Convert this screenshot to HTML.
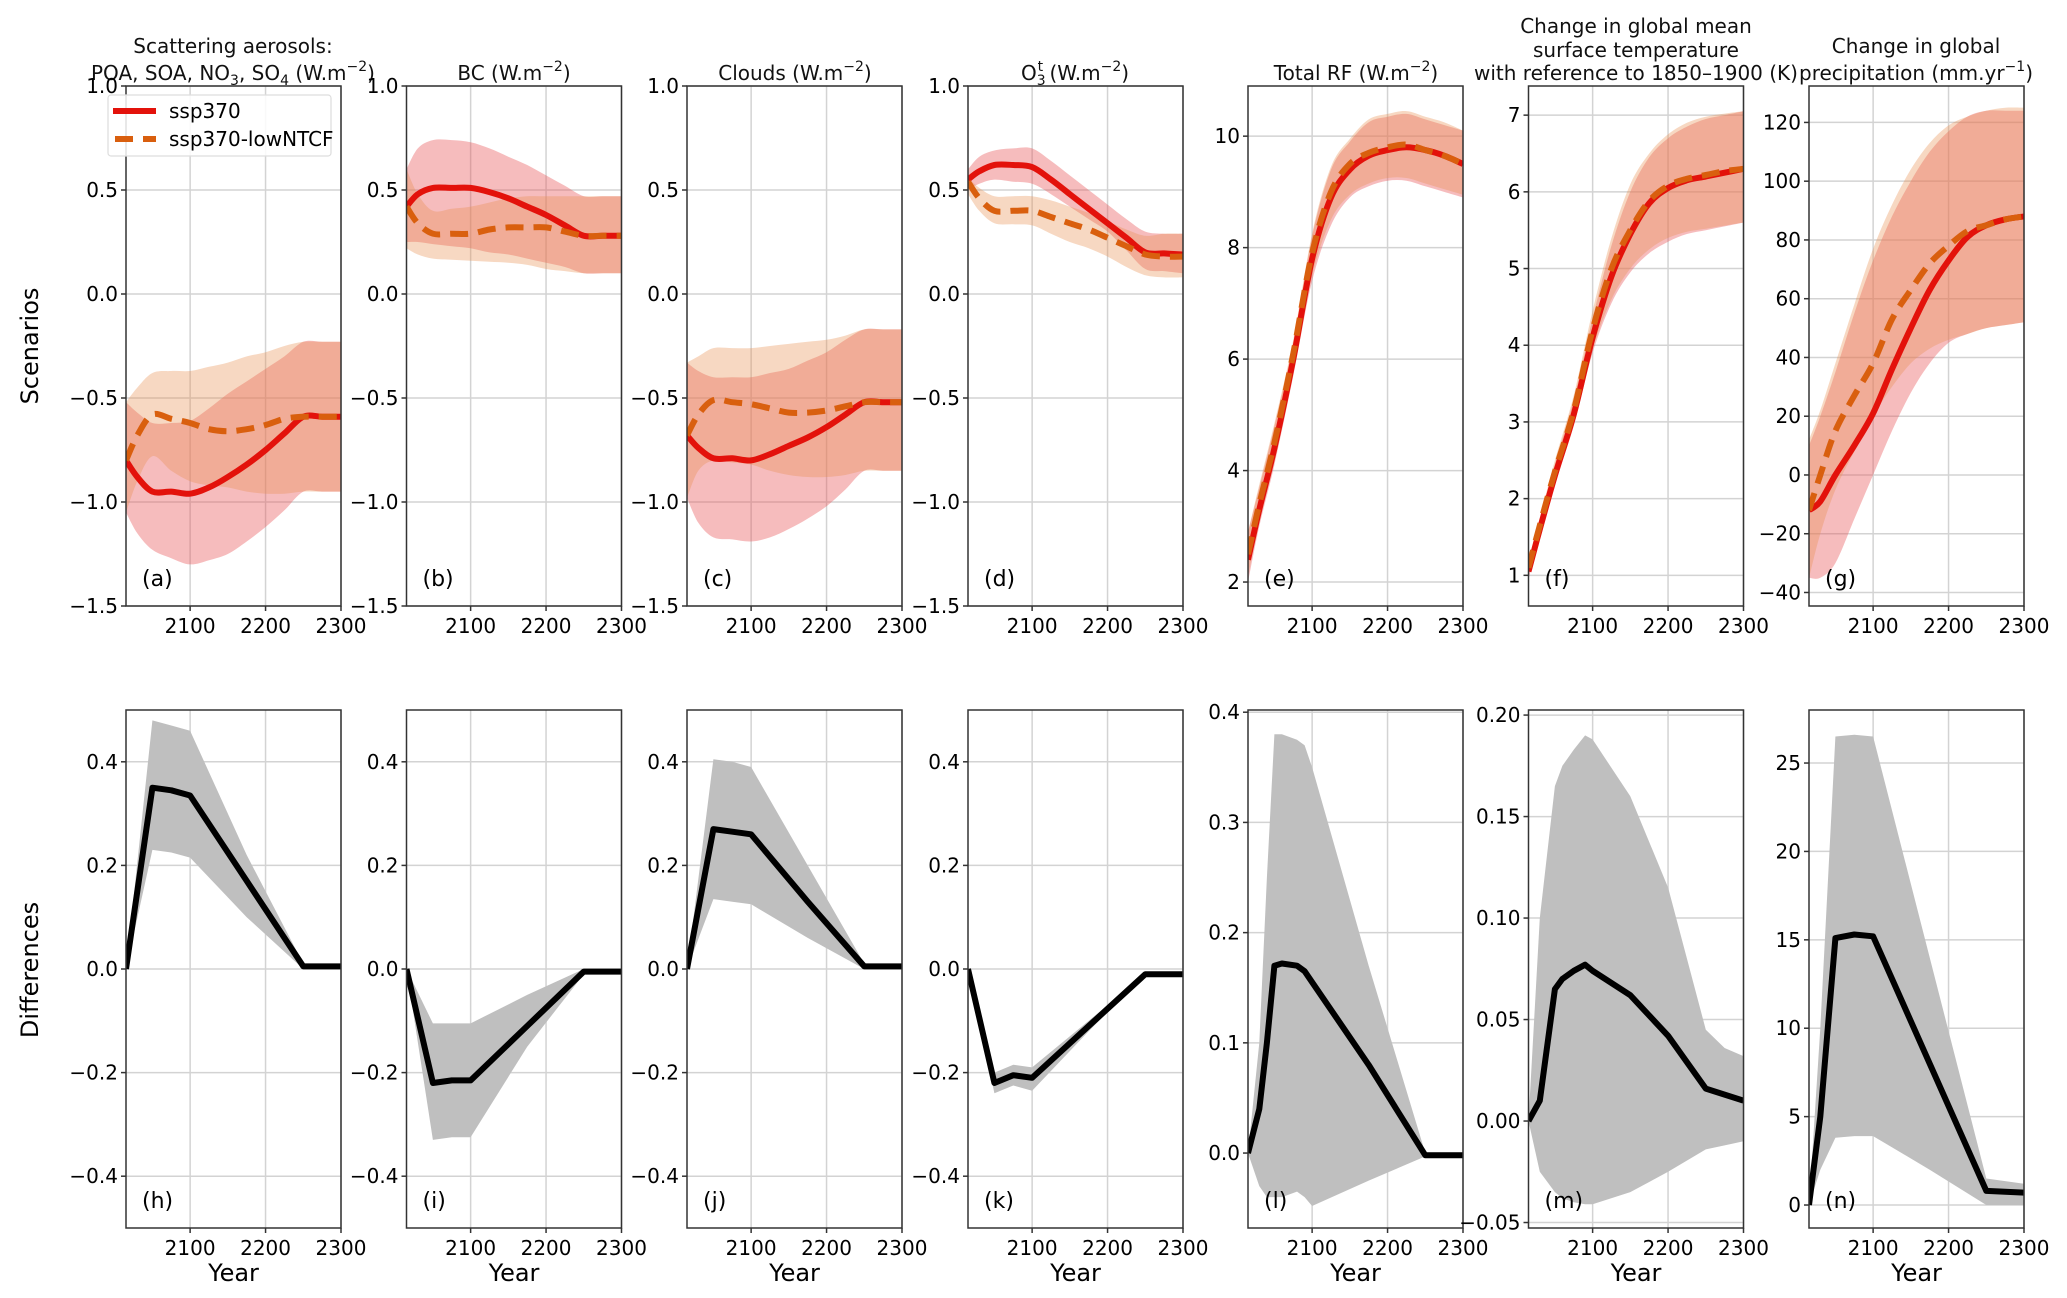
<!DOCTYPE html>
<html><head><meta charset="utf-8">
<style>
html,body{margin:0;padding:0;background:#fff;}
svg{display:block;font-family:"DejaVu Sans","Liberation Sans",sans-serif;}
</style></head>
<body>
<svg id="fig" xmlns="http://www.w3.org/2000/svg" width="2067" height="1298" viewBox="0 0 2067 1298">
<rect x="0" y="0" width="2067" height="1298" fill="#fff"/>
<text x="0" y="0" font-size="24" text-anchor="middle" transform="translate(38,346) rotate(-90)">Scenarios</text>
<text x="0" y="0" font-size="24" text-anchor="middle" transform="translate(38,970) rotate(-90)">Differences</text>
<g font-size="20" text-anchor="middle" fill="#111">
<text x="233" y="53">Scattering aerosols:</text>
<text x="233" y="80">POA, SOA, NO<tspan font-size="14" dy="5">3</tspan><tspan dy="-5">, SO</tspan><tspan font-size="14" dy="5">4</tspan><tspan dy="-5"> (W.m</tspan><tspan font-size="14" dy="-9">−2</tspan><tspan dy="9">)</tspan></text>
<text x="514" y="80">BC (W.m<tspan font-size="14" dy="-9">−2</tspan><tspan dy="9">)</tspan></text>
<text x="795" y="80">Clouds (W.m<tspan font-size="14" dy="-9">−2</tspan><tspan dy="9">)</tspan></text>
<text x="1075" y="80">O<tspan font-size="14" dy="5">3</tspan><tspan font-size="14" dx="-8" dy="-14">t</tspan><tspan dy="9"> (W.m</tspan><tspan font-size="14" dy="-9">−2</tspan><tspan dy="9">)</tspan></text>
<text x="1356" y="80">Total RF (W.m<tspan font-size="14" dy="-9">−2</tspan><tspan dy="9">)</tspan></text>
<text x="1636" y="33">Change in global mean</text>
<text x="1636" y="57">surface temperature</text>
<text x="1636" y="80">with reference to 1850–1900 (K)</text>
<text x="1916" y="53">Change in global</text>
<text x="1916" y="80">precipitation (mm.yr<tspan font-size="14" dy="-9">−1</tspan><tspan dy="9">)</tspan></text>
</g>
<g id="panels"></g>
<g>
<rect x="108" y="95" width="223" height="61" rx="3" fill="#fff" fill-opacity="0.85" stroke="#ddd" stroke-width="1.2"/>
<line x1="113" y1="111" x2="156" y2="111" stroke="#e3120b" stroke-width="6"/>
<text x="169" y="118" font-size="20">ssp370</text>
<line x1="115" y1="139" x2="156" y2="139" stroke="#d95f0e" stroke-width="6" stroke-dasharray="18,10"/>
<text x="169" y="146" font-size="20">ssp370-lowNTCF</text>
</g>
</svg>
<script>
// ---- data ----
const yearsA = [2015,2030,2050,2075,2100,2125,2150,2175,2200,2225,2250,2275,2300];
const yearsB = [2015,2030,2050,2075,2100,2125,2150,2175,2200,2225,2250,2275,2300];
const yearsD = [2015,2050,2075,2100,2175,2250,2300];
const yearsL = [2015,2030,2040,2050,2060,2080,2090,2100,2175,2250,2300];
const yearsM = [2015,2030,2050,2060,2075,2090,2100,2150,2200,2250,2275,2300];
const yearsN = [2015,2030,2050,2075,2100,2175,2250,2300];

const aR = [-0.8,-0.88,-0.95,-0.95,-0.96,-0.93,-0.88,-0.82,-0.75,-0.67,-0.59,-0.59,-0.59];
const aRlo = [-1.05,-1.15,-1.23,-1.27,-1.3,-1.28,-1.25,-1.19,-1.12,-1.04,-0.95,-0.95,-0.95];
const aRhi = [-0.52,-0.57,-0.62,-0.62,-0.61,-0.55,-0.48,-0.42,-0.36,-0.3,-0.23,-0.23,-0.23];
const aL = [-0.8,-0.68,-0.58,-0.6,-0.62,-0.65,-0.66,-0.65,-0.63,-0.6,-0.59,-0.59,-0.59];
const aLlo = [-1.05,-0.9,-0.78,-0.85,-0.9,-0.92,-0.93,-0.95,-0.96,-0.96,-0.95,-0.95,-0.95];
const aLhi = [-0.52,-0.45,-0.38,-0.37,-0.37,-0.35,-0.33,-0.3,-0.28,-0.25,-0.23,-0.23,-0.23];

const bR = [0.42,0.48,0.51,0.51,0.51,0.49,0.46,0.42,0.38,0.33,0.28,0.28,0.28];
const bRlo = [0.25,0.25,0.24,0.23,0.22,0.2,0.19,0.17,0.15,0.13,0.1,0.1,0.1];
const bRhi = [0.6,0.7,0.74,0.74,0.73,0.7,0.66,0.62,0.57,0.52,0.47,0.47,0.47];
const bL = [0.42,0.34,0.29,0.29,0.29,0.31,0.32,0.32,0.32,0.3,0.28,0.28,0.28];
const bLlo = [0.22,0.19,0.17,0.165,0.16,0.155,0.15,0.14,0.12,0.11,0.1,0.1,0.1];
const bLhi = [0.6,0.48,0.4,0.41,0.42,0.44,0.46,0.47,0.47,0.47,0.47,0.47,0.47];

const cR = [-0.68,-0.74,-0.79,-0.79,-0.8,-0.77,-0.73,-0.69,-0.64,-0.58,-0.52,-0.52,-0.52];
const cRlo = [-0.98,-1.1,-1.17,-1.18,-1.19,-1.17,-1.13,-1.08,-1.02,-0.94,-0.85,-0.85,-0.85];
const cRhi = [-0.33,-0.37,-0.4,-0.4,-0.4,-0.38,-0.36,-0.32,-0.28,-0.22,-0.17,-0.17,-0.17];
const cL = [-0.68,-0.58,-0.51,-0.52,-0.53,-0.55,-0.57,-0.57,-0.56,-0.54,-0.52,-0.52,-0.52];
const cLlo = [-0.98,-0.85,-0.8,-0.81,-0.82,-0.85,-0.87,-0.88,-0.88,-0.87,-0.85,-0.85,-0.85];
const cLhi = [-0.33,-0.3,-0.26,-0.26,-0.26,-0.25,-0.24,-0.23,-0.22,-0.2,-0.17,-0.17,-0.17];

const dR = [0.55,0.59,0.62,0.62,0.61,0.55,0.48,0.41,0.34,0.27,0.2,0.195,0.19];
const dRlo = [0.5,0.53,0.55,0.54,0.53,0.48,0.42,0.36,0.3,0.21,0.12,0.11,0.1];
const dRhi = [0.6,0.66,0.69,0.7,0.7,0.64,0.57,0.5,0.43,0.36,0.3,0.29,0.29];
const dL = [0.54,0.46,0.4,0.4,0.4,0.37,0.34,0.31,0.27,0.23,0.19,0.18,0.18];
const dLlo = [0.48,0.4,0.34,0.335,0.33,0.29,0.25,0.22,0.18,0.13,0.09,0.08,0.08];
const dLhi = [0.56,0.51,0.47,0.47,0.47,0.45,0.42,0.39,0.35,0.31,0.28,0.29,0.29];

const eR = [2.4,3.3,4.4,6.0,7.8,8.9,9.4,9.65,9.75,9.8,9.75,9.65,9.5];
const eRlo = [2.0,3.0,4.1,5.7,7.4,8.4,8.9,9.1,9.2,9.2,9.1,9.0,8.9];
const eRhi = [2.9,3.7,4.8,6.3,8.2,9.4,9.9,10.25,10.35,10.4,10.3,10.2,10.1];
const eL = [2.5,3.4,4.5,6.1,7.9,9.0,9.5,9.7,9.8,9.85,9.75,9.65,9.5];
const eLlo = [2.1,3.1,4.2,5.8,7.5,8.5,8.95,9.15,9.25,9.25,9.15,9.05,8.95];
const eLhi = [2.9,3.75,4.85,6.35,8.25,9.45,9.95,10.3,10.4,10.45,10.35,10.25,10.1];

const fR = [1.05,1.6,2.3,3.1,4.1,4.9,5.45,5.85,6.05,6.15,6.2,6.25,6.3];
const fRlo = [0.95,1.5,2.2,2.95,3.9,4.55,4.95,5.2,5.35,5.45,5.5,5.55,5.6];
const fRhi = [1.15,1.7,2.45,3.3,4.35,5.3,6.0,6.45,6.7,6.85,6.95,7.0,7.05];
const fL = [1.1,1.65,2.35,3.15,4.2,5.0,5.5,5.88,6.08,6.17,6.22,6.27,6.3];
const fLlo = [1.0,1.55,2.25,3.0,3.95,4.6,5.0,5.25,5.4,5.48,5.52,5.56,5.6];
const fLhi = [1.2,1.75,2.5,3.35,4.45,5.4,6.1,6.5,6.75,6.9,6.98,7.02,7.05];

const gR = [-12,-9,0,10,21,36,50,63,73,81,85,87,88];
const gRlo = [-35,-35,-30,-15,0,15,28,38,45,48,50,51,52];
const gRhi = [10,20,35,55,73,88,100,110,117,122,124,124,124];
const gL = [-12,0,15,27,38,53,63,72,78,83,85,87,88];
const gLlo = [-35,-20,-5,8,20,30,38,43,46,48,50,51,52];
const gLhi = [12,22,38,58,77,92,104,113,119,122,124,125,125];

const hM = [0,0.35,0.345,0.335,0.17,0.005,0.005];
const hLo = [0,0.23,0.225,0.215,0.1,0.0,0.0];
const hHi = [0,0.48,0.47,0.46,0.22,0.01,0.01];
const iM = [0,-0.22,-0.215,-0.215,-0.11,-0.005,-0.005];
const iLo = [0,-0.33,-0.325,-0.325,-0.15,-0.01,-0.01];
const iHi = [0,-0.105,-0.105,-0.105,-0.05,0,0];
const jM = [0,0.27,0.265,0.26,0.13,0.005,0.005];
const jLo = [0,0.135,0.13,0.125,0.06,0,0];
const jHi = [0,0.405,0.4,0.39,0.2,0.01,0.01];
const kM = [0,-0.22,-0.205,-0.21,-0.11,-0.01,-0.01];
const kLo = [0,-0.24,-0.225,-0.235,-0.12,-0.01,-0.01];
const kHi = [0,-0.2,-0.185,-0.19,-0.1,-0.01,-0.01];
const lM = [0,0.04,0.1,0.17,0.172,0.17,0.165,0.155,0.08,-0.002,-0.002];
const lLo = [0,-0.03,-0.04,-0.04,-0.04,-0.035,-0.04,-0.048,-0.025,-0.003,-0.003];
const lHi = [0,0.1,0.25,0.38,0.38,0.375,0.37,0.35,0.17,0.0,0.0];
const mM = [0,0.01,0.065,0.07,0.074,0.077,0.074,0.062,0.042,0.016,0.013,0.01];
const mLo = [0,-0.025,-0.035,-0.038,-0.04,-0.041,-0.041,-0.035,-0.025,-0.014,-0.012,-0.01];
const mHi = [0,0.1,0.165,0.175,0.183,0.19,0.188,0.16,0.115,0.045,0.036,0.032];
const nM = [0,5,15.1,15.3,15.2,8,0.8,0.7];
const nLo = [0,2,3.8,3.9,3.9,2,0,0];
const nHi = [0,10,26.5,26.6,26.5,14,1.5,1.2];

const xTicks = [2100,2200,2300];
const ticksAD = [-1.5,-1.0,-0.5,0.0,0.5,1.0];
const ticksE = [2,4,6,8,10];
const ticksF = [1,2,3,4,5,6,7];
const ticksG = [-40,-20,0,20,40,60,80,100,120];
const ticksHK = [-0.4,-0.2,0.0,0.2,0.4];
const ticksL = [0.0,0.1,0.2,0.3,0.4];
const ticksM = [-0.05,0.00,0.05,0.10,0.15,0.20];
const ticksN = [0,5,10,15,20,25];

// ---- drawing ----
const NS = "http://www.w3.org/2000/svg";
const root = document.getElementById('panels');
const LEFTS = [126,406.5,687,968,1248,1528.5,1809];
const W = 215;
const ROWS = [[86,606],[710,1228]];
function el(tag, attrs, parent){
  const e = document.createElementNS(NS, tag);
  for (const k in attrs) e.setAttribute(k, attrs[k]);
  parent.appendChild(e);
  return e;
}
function fmt(v, dec){
  const s = Math.abs(v).toFixed(dec);
  return (v < 0 ? '\u2212' : '') + s;
}
function smoothPath(pts){
  // Catmull-Rom to Bezier for gentle smoothing
  let d = 'M' + pts[0][0].toFixed(1) + ',' + pts[0][1].toFixed(1);
  for (let i = 0; i < pts.length - 1; i++){
    const p0 = pts[Math.max(0,i-1)], p1 = pts[i], p2 = pts[i+1], p3 = pts[Math.min(pts.length-1,i+2)];
    const c1x = p1[0] + (p2[0]-p0[0])/6, c1y = p1[1] + (p2[1]-p0[1])/6;
    const c2x = p2[0] - (p3[0]-p1[0])/6, c2y = p2[1] - (p3[1]-p1[1])/6;
    d += 'C' + c1x.toFixed(1) + ',' + c1y.toFixed(1) + ' ' + c2x.toFixed(1) + ',' + c2y.toFixed(1) + ' ' + p2[0].toFixed(1) + ',' + p2[1].toFixed(1);
  }
  return d;
}
function panel(p){
  const x0 = LEFTS[p.col], x1 = x0 + W;
  const y0 = ROWS[p.row][0], y1 = ROWS[p.row][1];
  const sx = v => x0 + (v - 2015) / (2300 - 2015) * W;
  const sy = v => y1 - (v - p.ymin) / (p.ymax - p.ymin) * (y1 - y0);
  const g = el('g', {}, root);
  
  
  const cid = 'clip-' + p.id;
  const cp = el('clipPath', {id: cid}, g);
  el('rect', {x: x0, y: y0, width: W, height: y1 - y0}, cp);
  xTicks.forEach(t => {
    const ln = el('line', {x1: sx(t), x2: sx(t), y1: y0, y2: y1, stroke: '#d3d3d3', 'stroke-width': 1.5}, g);
    
    
  });
  p.ticks.forEach(t => {
    const ln = el('line', {x1: x0, x2: x1, y1: sy(t), y2: sy(t), stroke: '#d3d3d3', 'stroke-width': 1.5}, g);
    
    
  });
  const plot = el('g', {'clip-path': 'url(#' + cid + ')'}, g);
  
  
  const smooth = p.row === 0;
  function band(yrs, lo, hi, fill, op, name){
    let d;
    if (smooth){
      const up = yrs.map((y,i) => [sx(y), sy(hi[i])]);
      const dn = yrs.map((y,i) => [sx(y), sy(lo[i])]).reverse();
      d = smoothPath(up) + smoothPath(dn).replace('M','L') + 'Z';
    } else {
      d = '';
      yrs.forEach((y,i) => { d += (i ? 'L' : 'M') + sx(y).toFixed(1) + ',' + sy(hi[i]).toFixed(1); });
      for (let i = yrs.length - 1; i >= 0; i--) d += 'L' + sx(yrs[i]).toFixed(1) + ',' + sy(lo[i]).toFixed(1);
      d += 'Z';
    }
    const b = el('path', {d: d, fill: fill, 'fill-opacity': op}, plot);
    
    
  }
  function line(yrs, v, color, dash, name){
    const pts = yrs.map((y,i) => [sx(y), sy(v[i])]);
    let d;
    if (smooth) d = smoothPath(pts);
    else d = pts.map((q,i) => (i ? 'L' : 'M') + q[0].toFixed(1) + ',' + q[1].toFixed(1)).join('');
    const a = {d: d, fill: 'none', stroke: color, 'stroke-width': 6, 'stroke-linejoin': 'round'};
    if (dash) a['stroke-dasharray'] = dash;
    const l = el('path', a, plot);
    
    
  }
  if (p.row === 0){
    band(p.yrs, p.rlo, p.rhi, '#e8585a', 0.4, 'ssp370-band');
    band(p.yrs, p.llo, p.lhi, '#e89050', 0.35, 'lowntcf-band');
    line(p.yrs, p.r, '#e3120b', null, 'ssp370-line');
    line(p.yrs, p.l, '#d95f0e', '18,10', 'lowntcf-line');
  } else {
    band(p.yrs, p.lo, p.hi, '#bfbfbf', 1, 'difference-band');
    line(p.yrs, p.m, '#000', null, 'difference-line');
  }
  const fr = el('rect', {x: x0, y: y0, width: W, height: y1 - y0, fill: 'none', stroke: '#333', 'stroke-width': 1.5}, g);
  
  
  xTicks.forEach(t => {
    el('line', {x1: sx(t), x2: sx(t), y1: y1, y2: y1 + 5, stroke: '#333', 'stroke-width': 1.5}, g);
    const tx = el('text', {x: sx(t), y: y1 + 27, 'font-size': 20, 'text-anchor': 'middle'}, g);
    
    
    tx.textContent = t;
  });
  p.ticks.forEach(t => {
    el('line', {x1: x0 - 5, x2: x0, y1: sy(t), y2: sy(t), stroke: '#333', 'stroke-width': 1.5}, g);
    const ty = el('text', {x: x0 - 8, y: sy(t) + 7, 'font-size': 20, 'text-anchor': 'end'}, g);
    
    
    ty.textContent = fmt(t, p.dec);
  });
  const lb = el('text', {x: x0 + 16, y: y1 - 20, 'font-size': 22}, g);
  
  
  lb.textContent = '(' + p.id + ')';
  if (p.row === 1){
    const yl = el('text', {x: (x0 + x1) / 2, y: y1 + 53, 'font-size': 24, 'text-anchor': 'middle'}, g);
    
    
    yl.textContent = 'Year';
  }
}
panel({id:'a',row:0,col:0,ymin:-1.5,ymax:1.0,ticks:ticksAD,dec:1,yrs:yearsA,r:aR,rlo:aRlo,rhi:aRhi,l:aL,llo:aLlo,lhi:aLhi});
panel({id:'b',row:0,col:1,ymin:-1.5,ymax:1.0,ticks:ticksAD,dec:1,yrs:yearsA,r:bR,rlo:bRlo,rhi:bRhi,l:bL,llo:bLlo,lhi:bLhi});
panel({id:'c',row:0,col:2,ymin:-1.5,ymax:1.0,ticks:ticksAD,dec:1,yrs:yearsA,r:cR,rlo:cRlo,rhi:cRhi,l:cL,llo:cLlo,lhi:cLhi});
panel({id:'d',row:0,col:3,ymin:-1.5,ymax:1.0,ticks:ticksAD,dec:1,yrs:yearsA,r:dR,rlo:dRlo,rhi:dRhi,l:dL,llo:dLlo,lhi:dLhi});
panel({id:'e',row:0,col:4,ymin:1.57,ymax:10.9,ticks:ticksE,dec:0,yrs:yearsB,r:eR,rlo:eRlo,rhi:eRhi,l:eL,llo:eLlo,lhi:eLhi});
panel({id:'f',row:0,col:5,ymin:0.6,ymax:7.38,ticks:ticksF,dec:0,yrs:yearsB,r:fR,rlo:fRlo,rhi:fRhi,l:fL,llo:fLlo,lhi:fLhi});
panel({id:'g',row:0,col:6,ymin:-44.6,ymax:132.4,ticks:ticksG,dec:0,yrs:yearsB,r:gR,rlo:gRlo,rhi:gRhi,l:gL,llo:gLlo,lhi:gLhi});
panel({id:'h',row:1,col:0,ymin:-0.5,ymax:0.5,ticks:ticksHK,dec:1,yrs:yearsD,m:hM,lo:hLo,hi:hHi});
panel({id:'i',row:1,col:1,ymin:-0.5,ymax:0.5,ticks:ticksHK,dec:1,yrs:yearsD,m:iM,lo:iLo,hi:iHi});
panel({id:'j',row:1,col:2,ymin:-0.5,ymax:0.5,ticks:ticksHK,dec:1,yrs:yearsD,m:jM,lo:jLo,hi:jHi});
panel({id:'k',row:1,col:3,ymin:-0.5,ymax:0.5,ticks:ticksHK,dec:1,yrs:yearsD,m:kM,lo:kLo,hi:kHi});
panel({id:'l',row:1,col:4,ymin:-0.068,ymax:0.402,ticks:ticksL,dec:1,yrs:yearsL,m:lM,lo:lLo,hi:lHi});
panel({id:'m',row:1,col:5,ymin:-0.0527,ymax:0.2025,ticks:ticksM,dec:2,yrs:yearsM,m:mM,lo:mLo,hi:mHi});
panel({id:'n',row:1,col:6,ymin:-1.3,ymax:28,ticks:ticksN,dec:0,yrs:yearsN,m:nM,lo:nLo,hi:nHi});
</script>
</body></html>
